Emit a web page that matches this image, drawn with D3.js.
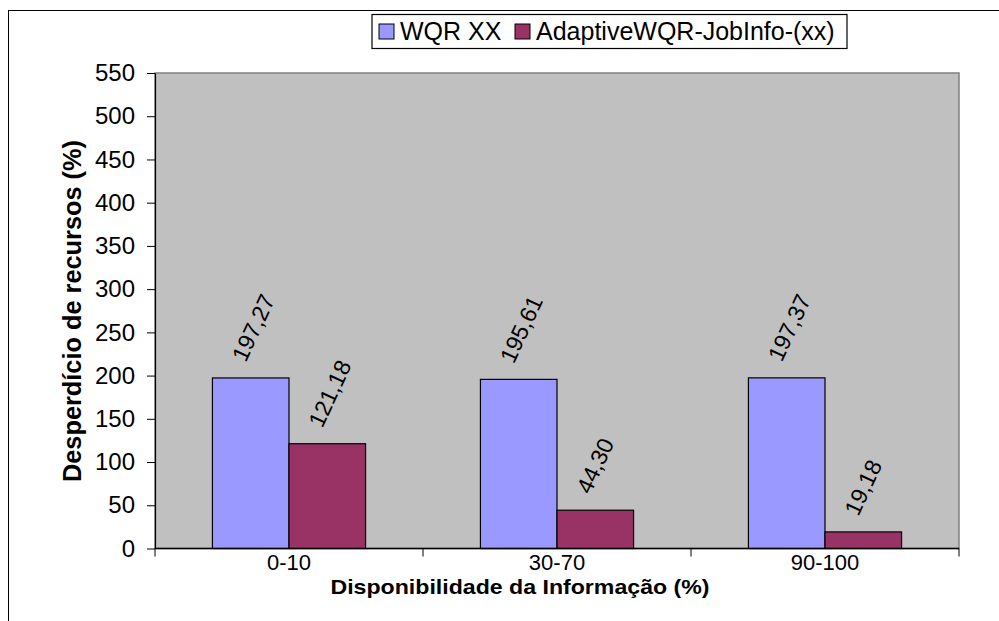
<!DOCTYPE html>
<html>
<head>
<meta charset="utf-8">
<script src="https://cdn.jsdelivr.net/npm/d3@7/dist/d3.min.js"></script>
<style>
html,body{margin:0;padding:0;background:#fff;}
text{font-family:Arial,"Liberation Sans",sans-serif;}
</style>
</head>
<body>
<svg id="chart" width="999" height="621"></svg>
<script>
const categories = ["0-10", "30-70", "90-100"];
const seriesNames = ["WQR XX", "AdaptiveWQR-JobInfo-(xx)"];
const wqrValues = [197.27, 195.61, 197.37];
const adaptiveValues = [121.18, 44.30, 19.18];
const yTicks = [0, 50, 100, 150, 200, 250, 300, 350, 400, 450, 500, 550];
const colors = ["#9999FF", "#993366"];

const svg = d3.select("#chart");
const plot = {left: 155, right: 959, top: 73, bottom: 548.5};

// outer chart border (cropped on right/bottom)
svg.append("rect").attr("x", 8.5).attr("y", 10.5).attr("width", 1100).attr("height", 700)
  .attr("fill", "#fff").attr("stroke", "#000").attr("stroke-width", 1);

const x0 = d3.scaleBand().domain(categories).range([plot.left, plot.right]).paddingInner(0).paddingOuter(0);
// gap width 150%: bar = band/3.5, outer gap 0.75 bar each side
const x1 = d3.scaleBand().domain([0, 1])
  .range([x0.bandwidth() * 0.75 / 3.5, x0.bandwidth() * 2.75 / 3.5]).paddingInner(0).paddingOuter(0);
const y = d3.scaleLinear().domain([0, 550]).range([plot.bottom, plot.top]);

// plot area background
svg.append("rect").attr("x", plot.left).attr("y", plot.top)
  .attr("width", plot.right - plot.left).attr("height", plot.bottom - plot.top)
  .attr("fill", "#C0C0C0").attr("stroke", "#808080").attr("stroke-width", 1.5);

// bars
const series = [wqrValues, adaptiveValues];
series.forEach((vals, si) => {
  svg.append("g").selectAll("rect").data(vals).join("rect")
    .attr("x", (d, i) => x0(categories[i]) + x1(si))
    .attr("y", d => y(d))
    .attr("width", x1.bandwidth())
    .attr("height", d => y(0) - y(d))
    .attr("fill", colors[si]).attr("stroke", "#000").attr("stroke-width", 1.2);
});

// data labels
const fmt = v => v.toFixed(2).replace(".", ",");
series.forEach((vals, si) => {
  svg.append("g").selectAll("text").data(vals).join("text")
    .attr("transform", (d, i) => {
      const cx = x0(categories[i]) + x1(si) + x1.bandwidth() / 2 - 5;
      const cy = y(d) - 15;
      return `translate(${cx},${cy}) rotate(-65)`;
    })
    .attr("font-size", 23).attr("fill", "#000")
    .text(d => fmt(d));
});

// y axis
const yAxis = d3.axisLeft(y).tickValues(yTicks).tickSize(8).tickPadding(12).tickSizeOuter(0);
const gy = svg.append("g").attr("transform", `translate(${plot.left},0)`).call(yAxis);
gy.select(".domain").attr("stroke", "#000").attr("stroke-width", 1.2);
gy.selectAll(".tick line").attr("stroke", "#000");
gy.selectAll(".tick text").attr("font-size", 24).attr("fill", "#000").attr("font-family", "Arial, 'Liberation Sans', sans-serif");

// x axis: ticks between categories
const gx = svg.append("g").attr("transform", `translate(0,${plot.bottom})`);
gx.append("line").attr("x1", plot.left).attr("x2", plot.right).attr("y1", 0).attr("y2", 0)
  .attr("stroke", "#000").attr("stroke-width", 1.5);
const bounds = categories.map(c => x0(c)).concat([plot.right]);
gx.selectAll("line.tk").data(bounds).join("line").attr("class", "tk")
  .attr("x1", d => d).attr("x2", d => d).attr("y1", 0).attr("y2", 8)
  .attr("stroke", "#000");
gx.selectAll("text.cat").data(categories).join("text").attr("class", "cat")
  .attr("x", d => x0(d) + x0.bandwidth() / 2).attr("y", 21)
  .attr("text-anchor", "middle").attr("font-size", 22).attr("fill", "#000")
  .text(d => d);

// axis titles
svg.append("text").attr("x", 520).attr("y", 594).attr("text-anchor", "middle")
  .attr("font-size", 21).attr("font-weight", "bold").attr("fill", "#000")
  .attr("textLength", 379).attr("lengthAdjust", "spacingAndGlyphs")
  .text("Disponibilidade da Informação (%)");
svg.append("text").attr("transform", "translate(81,311) rotate(-90)").attr("text-anchor", "middle")
  .attr("font-size", 25).attr("font-weight", "bold").attr("fill", "#000")
  .attr("textLength", 342).attr("lengthAdjust", "spacingAndGlyphs")
  .text("Desperdício de recursos (%)");

// legend
const lg = svg.append("g");
lg.append("rect").attr("x", 372).attr("y", 14.5).attr("width", 475).attr("height", 34)
  .attr("fill", "#fff").attr("stroke", "#000").attr("stroke-width", 1.2);
const legendX = [379, 515];
seriesNames.forEach((n, i) => {
  lg.append("rect").attr("x", legendX[i]).attr("y", 24).attr("width", 15).attr("height", 15)
    .attr("fill", colors[i]).attr("stroke", "#000").attr("stroke-width", 1);
  lg.append("text").attr("x", legendX[i] + 21).attr("y", 40).attr("font-size", 25).attr("fill", "#000").text(n);
});
</script>
</body>
</html>
